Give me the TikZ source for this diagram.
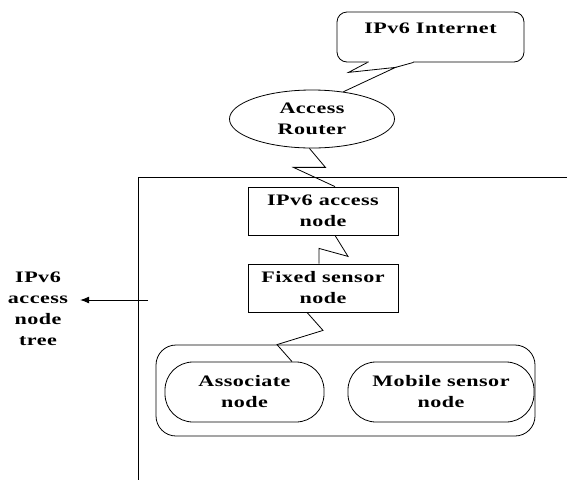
\documentclass[tikz,border=0pt]{standalone}
\usepackage{fontspec}
\setmainfont{Liberation Serif}[FakeStretch=1.38,LetterSpace=3]
\usetikzlibrary{arrows,arrows.meta,shapes.geometric}

\begin{document}
\begin{tikzpicture}[x=1pt,y=-1pt,font=\fontsize{16}{21}\selectfont\bfseries]
\tikzstyle{bubble} = [rectangle, draw, thick, rounded corners=10pt, minimum width=187pt,
minimum height=50pt, align=center]
\tikzstyle{router} = [ellipse, draw, thick, minimum width=165pt, minimum height=58pt, align=center]
\tikzstyle{block} = [rectangle, draw, thick, minimum width=150pt, minimum height=48pt, align=center]
\tikzstyle{group} = [rectangle, draw, thick, rounded corners=20pt, minimum width=379pt, minimum height=91pt]
\tikzstyle{member} = [rectangle, draw, thick, rounded corners=28pt, minimum height=60pt, align=center]
\tikzstyle{line} = [draw, thick]
\useasboundingbox (0,0) rectangle (567,480);

% top
\node [bubble] (inet) at (430.5,37) {IPv6 Internet\\[-3pt]\mbox{}};
\node [router] (router) at (312,119) {Access\\Router};
% frame of the tree
\draw [line] (567,177) -- (138,177) -- (138,480);
\node [align=center, inner xsep=12pt] (tree) at (38,309) {IPv6\\access\\node\\tree};
\coordinate (treeref) at (148,300);
% inside the tree
\node [block] (access) at (323,211) {IPv6 access\\node};
\node [block] (fixed) at (323,288) {Fixed sensor\\node};
\node [group] (group) at (345.5,390.5) {};
\node [member, minimum width=159pt] (assoc) at (244.5,392) {Associate\\node};
\node [member, minimum width=186pt] (mobile) at (441,392) {Mobile sensor\\node};

% links
\draw [white, line width=2pt] ([xshift=-62pt]inet.south) -- ([xshift=-18pt]inet.south);
\path [line] ([xshift=-63pt]inet.south) -- ++(-19,10) -- ++(47,-5) -- (router.41);
\path [line] ([xshift=-17pt]inet.south) -- ++(-18,5);
\path [line] (router.265) -- ++(16,19) -- ++(-32,0) -- ([xshift=12pt]access.north);
\path [line] ([xshift=12pt]access.south) -- ++(13,21) -- ++(-29,-8) -- ([xshift=-4pt]fixed.north);
\path [line] ([xshift=-16pt]fixed.south) -- ++(16,18) -- ([xshift=-68.5pt]group.north)
  -- ([xshift=47.5pt]assoc.north);
\path [line, -{Latex[length=9pt,width=7pt]}] (treeref) -- (treeref -| tree.east);
\end{tikzpicture}
\end{document}
